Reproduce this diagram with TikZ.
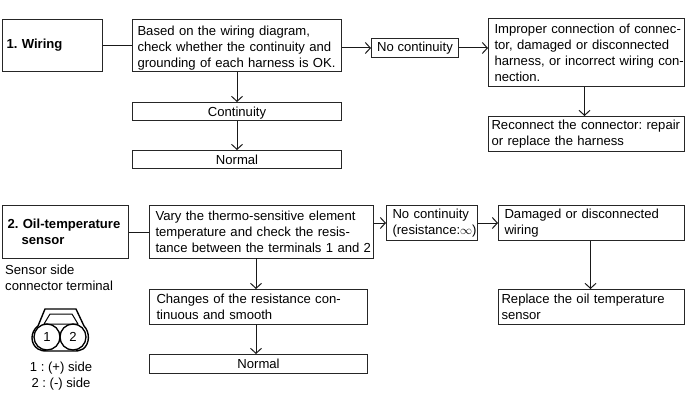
\documentclass[tikz,border=0pt]{standalone}
\usepackage{fontspec}
\setmainfont{Liberation Sans}
\usetikzlibrary{arrows.meta}
\frenchspacing
\tikzset{
 x=1pt,y=-1pt,
 box/.style={draw=black!85,line width=1pt,inner sep=0pt,align=left,font=\fontsize{13.1}{16}\selectfont},
 plain/.style={inner sep=0pt,align=left,font=\fontsize{13.1}{16}\selectfont},
 flow/.style={draw=black!90,line width=1pt,-{Straight Barb[length=5pt,width=11pt,line width=1pt]}},
 link/.style={draw=black!90,line width=1pt},
 pin/.style={draw=black,line width=1.3pt,circle,minimum size=26pt,inner sep=0pt,font=\fontsize{13.1}{16}\selectfont},
 shell/.style={draw=black,line width=1.4pt,line join=round},
}
\newcommand{\bx}[7][]{% name x1 y1 x2 y2 text
 \node[box,#1,minimum width=#4pt-#2pt,minimum height=#5pt-#3pt,anchor=north west] (#6) at (#2,#3) {#7};}
\newcommand{\tl}[1]{\mbox{#1}}
\begin{document}
\begin{tikzpicture}
\useasboundingbox (0,0) rectangle (700,403);
\fill[white] (0,0) rectangle (700,403);
\bx[text width=92pt]{2}{19}{102}{71}{wiring}{\textbf{1. Wiring}}
\bx[text width=199pt]{132}{19}{341}{71}{based}{\rule{0pt}{14pt}\tl{Based on the wiring diagram,}\\\tl{check whether the continuity and}\\\tl{grounding of each harness is OK.}}
\bx[align=center]{132}{102}{341}{120}{cont}{\rule{0pt}{12.5pt}Continuity}
\bx[align=center]{132}{150}{341}{168}{norma}{Normal}
\bx[align=center]{371}{38}{458}{57}{nocont}{No continuity}
\bx[text width=184pt]{488}{18}{684}{86}{improper}{\tl{Improper connection of connec-}\\\tl{tor, damaged or disconnected}\\\tl{harness, or incorrect wiring con-}\\\tl{nection.}}
\bx[text width=190pt]{488}{116}{684}{151}{reconn}{\tl{Reconnect the connector: repair}\\\tl{or replace the harness}}
\bx[text width=116pt]{2}{205}{128}{258}{oil}{\textbf{2. Oil-temperature}\\\hspace*{14pt}\textbf{sensor}}
\bx[text width=212pt]{149}{205}{373}{258}{vary}{\tl{Vary the thermo-sensitive element}\\\tl{temperature and check the resis-}\\\tl{tance between the terminals 1 and 2}}
\bx[text width=204pt]{149}{289}{367}{324}{changes}{\tl{Changes of the resistance con-}\\\tl{tinuous and smooth}}
\bx[align=center]{149}{354}{367}{373}{normb}{Normal}
\bx[text width=79pt]{386}{205}{477}{240}{nocontb}{\tl{No continuity}\\\tl{(resistance:$\infty$)}}
\bx[text width=174pt]{498}{205}{684}{240}{damaged}{\tl{Damaged or disconnected}\\\tl{wiring}}
\bx[text width=180pt]{498}{289}{684}{324}{replace}{\tl{Replace the oil temperature}\\\tl{sensor}}
\draw[link] (wiring) -- (based);
\draw[flow] (based.east |- nocont) -- (nocont);
\draw[flow] (nocont) -- (improper.west |- nocont);
\draw[flow] (based.south -| cont) -- (cont);
\draw[flow] (cont) -- (norma);
\draw[flow] ([xshift=-2pt]improper.south) -- ([xshift=-2pt]reconn.north);
\draw[link] (oil) -- (oil -| vary.west);
\draw[flow] (vary.east |- nocontb) -- (nocontb);
\draw[flow] (nocontb) -- (damaged);
\draw[flow] ([xshift=-1pt]damaged.south) -- ([xshift=-1pt]replace.north);
\coordinate (va) at (256,258);
\coordinate (vb) at (256,289);
\coordinate (vc) at (256,324);
\coordinate (vd) at (256,354);
\draw[flow] (va) -- (vb);
\draw[flow] (vc) -- (vd);
\node[plain,anchor=north west] (lab) at (5,265) {Sensor side\\connector terminal};
\node[plain,anchor=north,align=center] (legend) at (61,362) {1 : (+) side\\2 : (-) side};
\node[pin] (p1) at (47,337) {1};
\node[pin] (p2) at (73,337) {2};
\draw[shell] (38,326) -- (45,309) -- (76,309) -- (84,326);
\draw[shell] (38,326) .. controls (30,332) and (30,344) .. (38,349) .. controls (41,351) and (44,351) .. (47,351) -- (73,351) .. controls (77,351) and (80,351) .. (83,349) .. controls (90,344) and (90,332) .. (84,326);
\draw[shell,line width=1pt] (50,314) -- (72,314) -- (78,324) -- (44,324) -- cycle;
\end{tikzpicture}
\end{document}
